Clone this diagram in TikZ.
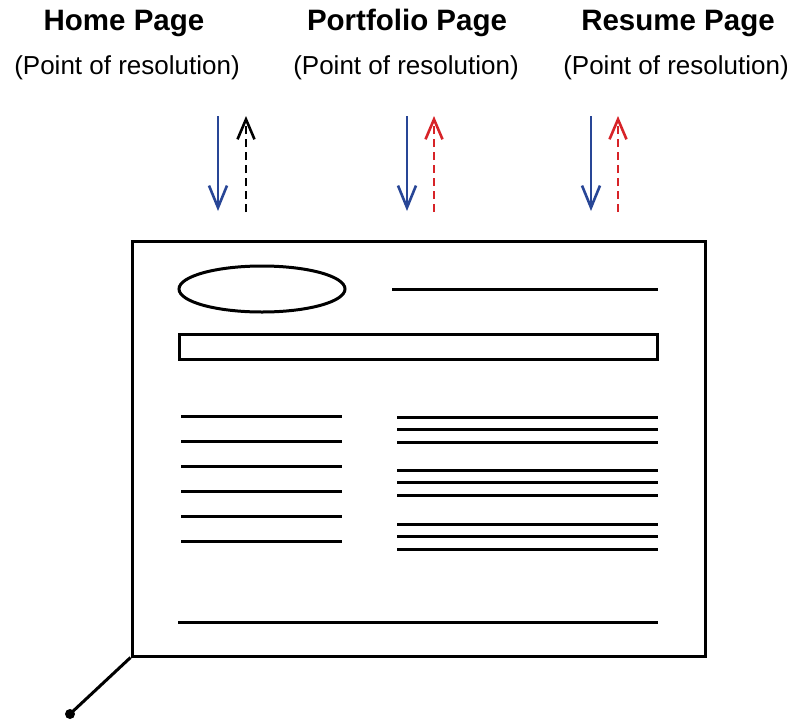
\documentclass[tikz,border=0pt]{standalone}
\usepackage{fontspec}
\setmainfont{Liberation Sans}
\usetikzlibrary{arrows.meta,shapes.geometric}
\definecolor{reqblue}{RGB}{40,70,150}
\definecolor{resred}{RGB}{215,35,40}
\begin{document}
\begin{tikzpicture}[x=1pt,y=-1pt,
  title/.style={font=\fontsize{29.5}{32}\selectfont\bfseries, anchor=base, inner sep=0pt},
  sub/.style={font=\fontsize{26}{30}\selectfont, anchor=base, inner sep=0pt},
  req/.style={reqblue, line width=2.6pt, -{Straight Barb[length=22pt,width=18pt,line width=2.6pt]}},
  res/.style={line width=2.6pt, dash pattern=on 8pt off 5pt, -{Straight Barb[length=20pt,width=17pt,line width=2.6pt]}},
  ink/.style={line width=3pt}]
\useasboundingbox (0,0) rectangle (799,723);

% page headings
\node[title] (home) at (124,30) {Home Page};
\node[sub] (homes) at (127,74) {(Point of resolution)};
\node[title] (port) at (407,30) {Portfolio Page};
\node[sub] (ports) at (406,74) {(Point of resolution)};
\node[title] (resu) at (678,30) {Resume Page};
\node[sub] (resus) at (676,74) {(Point of resolution)};

% request / response arrows
\foreach \n/\xa/\xb/\col in {h/218/246/black, p/407/434/resred, r/591/618/resred}{
  \coordinate (\n rqs) at (\xa,116);
  \coordinate (\n rqe) at (\xa,211);
  \coordinate (\n rss) at (\xb,212);
  \coordinate (\n rse) at (\xb,116);
  \draw[req] (\n rqs) -- (\n rqe);
  \draw[res,\col] (\n rss) -- (\n rse);
}

% the web page
\node[ink, draw, rectangle, minimum width=573pt, minimum height=415pt, inner sep=0pt] (page) at (418.5,448.5) {};
\node[ink, draw, ellipse, minimum width=166pt, minimum height=46pt, inner sep=0pt] (logo) at (262,289) {};
\coordinate (hl1) at (392,289); \coordinate (hl2) at (658,289);
\draw[ink] (hl1) -- (hl2);
\node[ink, draw, rectangle, minimum width=478pt, minimum height=25pt, inner sep=0pt] (nav) at (418,346.5) {};

% left column
\foreach \y in {416,441,466,491,516,541}
  \draw[ink] (181,\y) -- (342,\y);
% right column
\foreach \y in {417,429.5,442,470,482.5,495,524,536.5,549}
  \draw[ink] (397,\y) -- (658,\y);

% footer
\coordinate (f1) at (178,622); \coordinate (f2) at (658,622);
\draw[ink] (f1) -- (f2);

% pointer
\coordinate (pin) at (70,714);
\draw[ink] (page.south west) -- (pin);
\fill (pin) circle (5pt);
\end{tikzpicture}
\end{document}
